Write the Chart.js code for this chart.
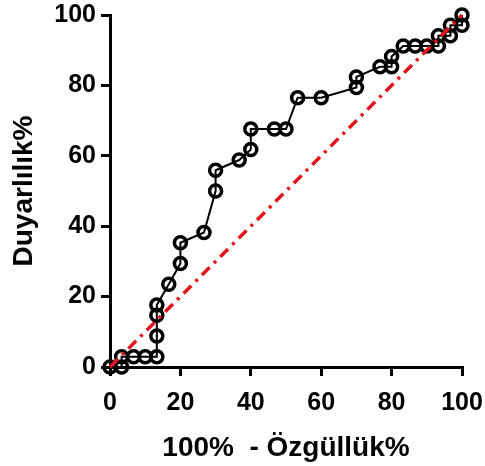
<!DOCTYPE html>
<html>
<head>
<meta charset="utf-8">
<script src="https://cdn.jsdelivr.net/npm/chart.js@4"></script>
<style>
  html, body { margin: 0; padding: 0; background: #fff; }
  #wrap { width: 485px; height: 466px; }
</style>
</head>
<body>
<div id="wrap"><canvas id="roc" width="485" height="466"></canvas></div>
<script>
// ROC points (100% - specificity, sensitivity)
const fprX = [0, 3.3, 3.3, 6.7, 10, 13.3, 13.3, 13.3, 13.3, 16.7, 20, 20, 26.7, 30, 30, 36.7, 40, 40, 46.7, 50,
  53.3, 60, 70, 70, 76.7, 80, 80, 83.3, 86.7, 90, 93.3, 93.3, 96.7, 96.7, 100, 100];
const tprY = [0, 0, 2.9, 2.9, 2.9, 2.9, 8.8, 14.7, 17.6, 23.5, 29.4, 35.3, 38.2, 50, 55.9, 58.8, 61.8, 67.6, 67.6, 67.6,
  76.5, 76.5, 79.4, 82.4, 85.3, 85.3, 88.2, 91.2, 91.2, 91.2, 91.2, 94.1, 94.1, 97.1, 97.1, 100];
// reference (chance) line
const refX = [0, 100];
const refY = [0, 100];
const tickValues = [0, 20, 40, 60, 80, 100];

const FONT = 'Liberation Sans, Arial, sans-serif';

const ctx = document.getElementById('roc').getContext('2d');
new Chart(ctx, {
  type: 'scatter',
  data: {
    datasets: [
      {
        label: 'Referans',
        data: refX.map((x, i) => ({ x: x, y: refY[i] })),
        showLine: true,
        borderColor: '#e3151b',
        borderWidth: 3.5,
        borderDash: [11, 6, 3, 6],
        pointRadius: 0,
        order: 0
      },
      {
        label: 'ROC',
        data: fprX.map((x, i) => ({ x: x, y: tprY[i] })),
        showLine: true,
        borderColor: '#000',
        borderWidth: 2,
        pointRadius: 6,
        pointBorderWidth: 3.5,
        pointBorderColor: '#000',
        pointBackgroundColor: 'rgba(0,0,0,0)',
        order: 1
      }
    ]
  },
  options: {
    responsive: false,
    animation: false,
    clip: false,
    layout: { padding: 0 },
    plugins: {
      legend: { display: false },
      tooltip: { enabled: false }
    },
    scales: {
      x: {
        type: 'linear',
        min: 0,
        max: 100,
        afterBuildTicks: (s) => { s.ticks = tickValues.map(v => ({ value: v })); },
        afterFit: (s) => {
          s.height = 99;
          s.paddingLeft = 0;
          s.paddingRight = 23;
        },
        grid: { drawOnChartArea: false, drawTicks: true, tickLength: 9, color: '#000', lineWidth: 3 },
        border: { color: '#000', width: 3 },
        ticks: { color: '#000', padding: 12, font: { family: FONT, size: 25, weight: 'bold' } },
        title: {
          display: true,
          text: '100%  - Özgüllük%',
          color: '#000',
          padding: { top: 4, bottom: 1 },
          font: { family: FONT, size: 28, weight: 'bold' }
        }
      },
      y: {
        type: 'linear',
        min: 0,
        max: 100,
        afterBuildTicks: (s) => { s.ticks = tickValues.map(v => ({ value: v })); },
        afterFit: (s) => {
          s.width = 110;
          s.paddingTop = 15;
          s.paddingBottom = 0;
        },
        grid: { drawOnChartArea: false, drawTicks: true, tickLength: 9, color: '#000', lineWidth: 3 },
        border: { color: '#000', width: 3 },
        ticks: { color: '#000', padding: 5, font: { family: FONT, size: 25, weight: 'bold' } },
        title: {
          display: true,
          text: 'Duyarlılık%',
          color: '#000',
          padding: { top: 7, bottom: 2 },
          font: { family: FONT, size: 28, weight: 'bold' }
        }
      }
    }
  }
});
</script>
</body>
</html>
